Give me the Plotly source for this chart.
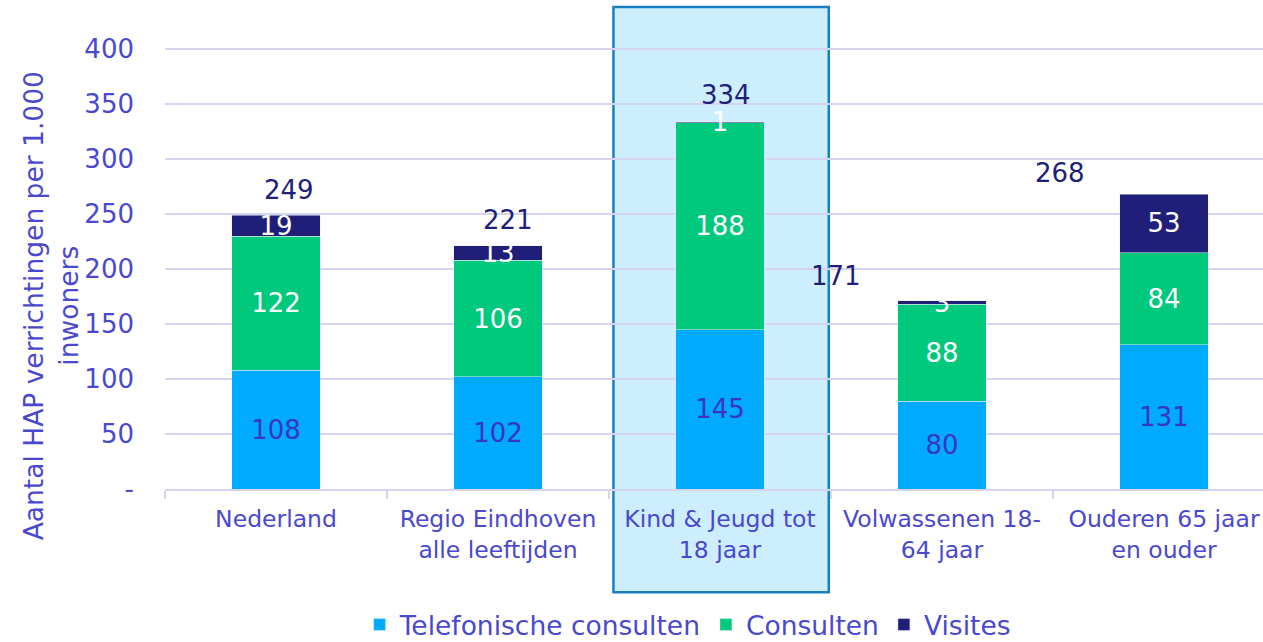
import plotly.graph_objects as go

categories = ['Nederland', 'Regio Eindhoven<br>alle leeftijden', 'Kind & Jeugd tot<br>18 jaar',
              'Volwassenen 18-<br>64 jaar', 'Ouderen 65 jaar<br>en ouder']
telefonisch = [108, 102, 145, 80, 131]
consulten = [122, 106, 188, 88, 84]
visites = [19, 13, 1, 3, 53]
totals = [249, 221, 334, 171, 268]
y_ticks = [0, 50, 100, 150, 200, 250, 300, 350, 400]
y_ticktext = ['-', '50', '100', '150', '200', '250', '300', '350', '400']

FONT = 'DejaVu Sans'
LABEL = '#4a48cf'
NAVY = '#1f1f7a'
GRID = '#d5d5f0'

fig = go.Figure()
fig.add_trace(go.Bar(x=categories, y=telefonisch, name='Telefonische consulten', marker_color='#00aaff',
                     text=telefonisch, textposition='inside', insidetextanchor='middle', textangle=0,
                     textfont=dict(color='#3a34c8', size=26, family=FONT)))
fig.add_trace(go.Bar(x=categories, y=consulten, name='Consulten', marker_color='#00c87c',
                     text=consulten, textposition='inside', insidetextanchor='middle', textangle=0,
                     textfont=dict(color='white', size=26, family=FONT)))
fig.add_trace(go.Bar(x=categories, y=visites, name='Visites', marker_color=NAVY,
                     text=visites, textposition='inside', insidetextanchor='middle', textangle=0,
                     textfont=dict(color='white', size=26, family=FONT)))

# total labels, shifted like the original Excel labels
shifts = [(13, 25), (10, 26), (6, 27), (-106, 25), (-104, 21)]
for i, t in enumerate(totals):
    fig.add_annotation(x=categories[i], y=t, text=str(t), showarrow=False,
                       xshift=shifts[i][0], yshift=shifts[i][1],
                       font=dict(color=NAVY, size=26, family=FONT))

# highlight box around "Kind & Jeugd"
fig.add_shape(type='rect', xref='x', yref='paper', x0=1.52, x1=2.49, y0=-0.234, y1=1.093,
              fillcolor='#cdeeff', line=dict(color='#1a7fc1', width=2.5), layer='below')

fig.add_annotation(text='Aantal HAP verrichtingen per 1.000<br>inwoners', textangle=-90,
                   xref='paper', yref='paper', x=-0.104, y=0.416, showarrow=False,
                   xanchor='center', yanchor='middle',
                   font=dict(color=LABEL, size=26.5, family=FONT))

fig.update_layout(
    barmode='stack', bargap=0.6,
    width=1263, height=642,
    margin=dict(l=165, r=0, t=48, b=153, autoexpand=False),
    paper_bgcolor='white', plot_bgcolor='rgba(0,0,0,0)',
    font=dict(family=FONT, color=LABEL, size=24),
    uniformtext=dict(minsize=26, mode='show'),
    showlegend=True,
    legend=dict(orientation='h', x=0.476, xanchor='center', y=-0.308, yanchor='middle',
                font=dict(size=26.5, color=LABEL), itemwidth=30, traceorder='normal'),
    xaxis=dict(type='category', range=[-0.5, 4.446], tickson='boundaries', automargin=False,
               ticks='outside', ticklen=8, tickcolor=GRID, tickwidth=2, showline=True,
               linecolor=GRID, linewidth=2, showgrid=False, ticklabelstandoff=8,
               tickfont=dict(size=23.5, color=LABEL)),
    yaxis=dict(range=[0, 401], tickvals=y_ticks, ticktext=y_ticktext, showgrid=True, automargin=False,
               gridcolor=GRID, gridwidth=2, zeroline=False, showline=False,
               ticklabelstandoff=30, tickfont=dict(size=26, color=LABEL)),
)

fig.write_html("out.html", config={'displayModeBar': False},
               post_script="document.body.style.margin='0';")
